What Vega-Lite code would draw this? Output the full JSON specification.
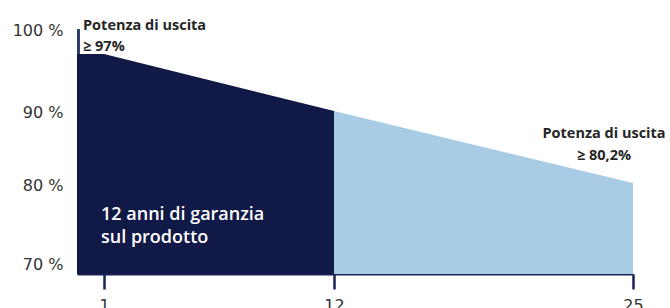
{
  "$schema": "https://vega.github.io/schema/vega-lite/v6.json",
  "width": 556,
  "height": 254,
  "autosize": {"type": "none"},
  "padding": {"left": 77, "top": 20, "right": 37, "bottom": 34},
  "background": "white",
  "config": {"view": {"stroke": null}, "font": "Open Sans"},
  "datasets": {
    "curve": [
      {"year": 0, "pct": 97, "phase": "Garanzia prodotto"},
      {"year": 1, "pct": 97, "phase": "Garanzia prodotto"},
      {"year": 12, "pct": 90, "phase": "Garanzia prodotto"},
      {"year": 12, "pct": 90, "phase": "Potenza"},
      {"year": 25, "pct": 80.2, "phase": "Potenza"}
    ],
    "start": [
      {"year": 0, "year2": 0.11, "pct": 97, "pct2": 100}
    ],
    "note_left": [
      {"year": 0, "pct": 100, "label": "Potenza di uscita\n≥ 97%"}
    ],
    "note_right": [
      {"year": 25, "pct": 80.2, "label": "Potenza di uscita\n≥ 80,2%"}
    ],
    "note_inside": [
      {"year": 1, "pct": 70, "label": "12 anni di garanzia\nsul prodotto"}
    ]
  },
  "encoding": {
    "x": {
      "field": "year",
      "type": "quantitative",
      "scale": {"domain": [0, 1, 12, 25], "range": [0, 27, 257, 556], "nice": false, "zero": false},
      "axis": {
        "values": [1, 12, 25],
        "title": null,
        "grid": false,
        "tickSize": 15,
        "tickWidth": 2.5,
        "tickColor": "#1b2352",
        "domainColor": "#1b2352",
        "domainWidth": 2,
        "labelFont": "DejaVu Sans",
        "labelFontSize": 16,
        "labelColor": "#333333",
        "labelPadding": 8,
        "labelFlush": false
      }
    },
    "y": {
      "field": "pct",
      "type": "quantitative",
      "scale": {"domain": [68.6, 80.2, 90, 97, 100], "range": [254, 163, 91, 34, 9], "nice": false, "zero": false},
      "axis": {
        "values": [70, 80, 90, 100],
        "title": null,
        "grid": false,
        "domain": false,
        "ticks": false,
        "labelFont": "DejaVu Sans",
        "labelFontSize": 16,
        "labelColor": "#333333",
        "labelPadding": 14,
        "labelOffset": 1,
        "labelExpr": "datum.value + ' %'"
      }
    }
  },
  "layer": [
    {
      "data": {"name": "curve"},
      "mark": {"type": "area", "interpolate": "linear"},
      "encoding": {
        "y2": {"datum": 68.6},
        "color": {
          "field": "phase",
          "type": "nominal",
          "scale": {"domain": ["Garanzia prodotto", "Potenza"], "range": ["#111a46", "#a8cce5"]},
          "legend": null
        }
      }
    },
    {
      "data": {"name": "start"},
      "mark": {"type": "rect", "color": "#2e3b6d"},
      "encoding": {
        "x2": {"field": "year2"},
        "y2": {"field": "pct2"}
      }
    },
    {
      "data": {"name": "note_left"},
      "mark": {"type": "text", "align": "left", "baseline": "middle", "dx": 6, "dy": -3.5, "fontSize": 14.5, "fontWeight": "bold", "lineHeight": 21, "lineBreak": "\n", "color": "#262626"},
      "encoding": {"text": {"field": "label"}}
    },
    {
      "data": {"name": "note_right"},
      "mark": {"type": "text", "align": "center", "baseline": "middle", "dx": -29, "dy": -49, "fontSize": 14.5, "fontWeight": "bold", "lineHeight": 22, "lineBreak": "\n", "color": "#262626"},
      "encoding": {"text": {"field": "label"}}
    },
    {
      "data": {"name": "note_inside"},
      "mark": {"type": "text", "align": "left", "baseline": "middle", "dx": -3, "dy": -48, "fontSize": 18, "fontWeight": 600, "lineHeight": 23, "lineBreak": "\n", "color": "white"},
      "encoding": {"text": {"field": "label"}}
    }
  ]
}
